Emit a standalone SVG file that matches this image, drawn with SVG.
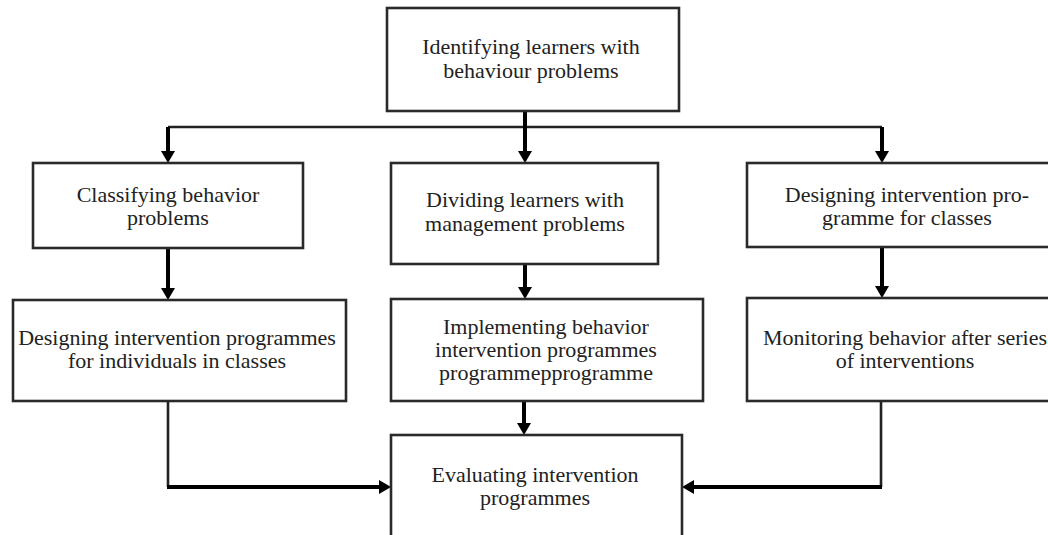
<svg xmlns="http://www.w3.org/2000/svg" width="1048" height="535" viewBox="0 0 1048 535">
<style>
.box{fill:#fff;stroke:#2a2a2a;stroke-width:2.6}
.t{font-family:"Liberation Serif","Times New Roman",serif;font-size:22px;fill:#222;text-anchor:middle}
.thick{fill:none;stroke:#000;stroke-width:4}
.thin{fill:none;stroke:#222;stroke-width:2.6}
</style>
<defs>
<marker id="ah" viewBox="0 0 12 14" refX="6" refY="7" markerWidth="12" markerHeight="14" orient="auto" markerUnits="userSpaceOnUse">
<path d="M0,0 L12,7 L0,14 z" fill="#000"/>
</marker>
</defs>
<rect width="1048" height="535" fill="#fff"/>
<g id="connectors">
<line class="thin" x1="168" y1="127" x2="882" y2="127"/>
<line class="thick" x1="525" y1="111" x2="525" y2="157" marker-end="url(#ah)"/>
<line class="thick" x1="168" y1="127" x2="168" y2="157" marker-end="url(#ah)"/>
<line class="thick" x1="882" y1="127" x2="882" y2="157" marker-end="url(#ah)"/>
<line class="thick" x1="168" y1="248" x2="168" y2="294" marker-end="url(#ah)"/>
<line class="thick" x1="525" y1="264" x2="525" y2="293" marker-end="url(#ah)"/>
<line class="thick" x1="882" y1="247" x2="882" y2="292" marker-end="url(#ah)"/>
<line class="thick" x1="524" y1="401" x2="524" y2="429" marker-end="url(#ah)"/>
<path class="thin" d="M168,401 L168,487"/>
<path class="thick" d="M167,487 L385,487" marker-end="url(#ah)"/>
<path class="thin" d="M881,401 L881,487"/>
<path class="thick" d="M882,487 L688,487" marker-end="url(#ah)"/>
</g>
<g id="n-identify">
<rect class="box" x="387" y="8" width="292" height="103"/>
<text class="t" x="531" y="54">Identifying learners with</text>
<text class="t" x="531" y="78">behaviour problems</text>
</g>
<g id="n-classify">
<rect class="box" x="33" y="163" width="270" height="85"/>
<text class="t" x="168" y="202">Classifying behavior</text>
<text class="t" x="168" y="225">problems</text>
</g>
<g id="n-divide">
<rect class="box" x="391" y="163" width="267" height="101"/>
<text class="t" x="525" y="207">Dividing learners with</text>
<text class="t" x="525" y="231">management problems</text>
</g>
<g id="n-design-classes">
<rect class="box" x="747" y="163" width="320" height="84"/>
<text class="t" x="907" y="202">Designing intervention pro-</text>
<text class="t" x="907" y="225">gramme for classes</text>
</g>
<g id="n-design-individuals">
<rect class="box" x="13" y="300" width="333" height="101"/>
<text class="t" x="177" y="345">Designing intervention programmes</text>
<text class="t" x="177" y="368">for individuals in classes</text>
</g>
<g id="n-implement">
<rect class="box" x="391" y="299" width="312" height="102"/>
<text class="t" x="546" y="334">Implementing behavior</text>
<text class="t" x="546" y="357">intervention programmes</text>
<text class="t" x="546" y="380">programmepprogramme</text>
</g>
<g id="n-monitor">
<rect class="box" x="747" y="298" width="320" height="103"/>
<text class="t" x="905" y="345">Monitoring behavior after series</text>
<text class="t" x="905" y="368">of interventions</text>
</g>
<g id="n-evaluate">
<rect class="box" x="391" y="435" width="291" height="120"/>
<text class="t" x="535" y="482">Evaluating intervention</text>
<text class="t" x="535" y="505">programmes</text>
</g>
</svg>
